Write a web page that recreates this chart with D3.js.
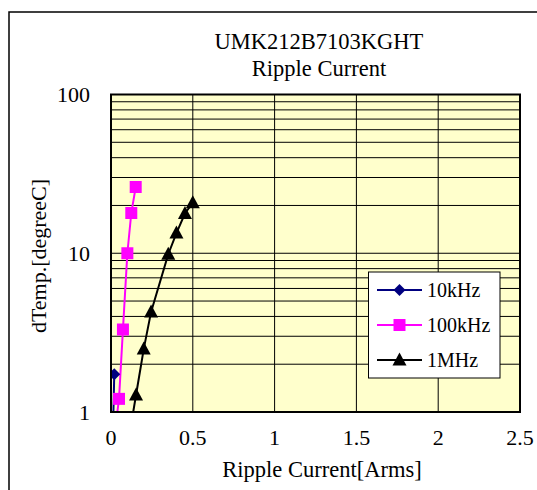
<!DOCTYPE html>
<html><head><meta charset="utf-8">
<script src="https://cdn.jsdelivr.net/npm/d3@7"></script>
<style>html,body{margin:0;padding:0;background:#fff;}svg{display:block;}</style>
</head><body>
<svg id="c" width="537" height="490"></svg>
<script>
const titleLines = ["UMK212B7103KGHT", "Ripple Current"];
const xLabel = "Ripple Current[Arms]";
const yLabel = "dTemp.[degreeC]";
const xTicks = [0, 0.5, 1, 1.5, 2, 2.5];
const xTickLabels = ["0", "0.5", "1", "1.5", "2", "2.5"];
const yTicks = [1, 10, 100];
const yTickLabels = ["1", "10", "100"];
const seriesNames = ["10kHz", "100kHz", "1MHz"];
const s10kX = [0.01, 0.02];
const s10kY = [0.6, 1.73];
const s100kX = [0.025, 0.049, 0.073, 0.1, 0.124, 0.151];
const s100kY = [0.77, 1.21, 3.31, 10.0, 17.9, 26.1];
const s1MX = [0.1, 0.153, 0.2, 0.245, 0.35, 0.4, 0.452, 0.5];
const s1MY = [0.6, 1.28, 2.49, 4.27, 9.86, 13.4, 17.8, 20.8];
const colors = ["#000080", "#FF00FF", "#000000"];
const markers = ["diamond", "square", "triangle"];

const FONT = '"Liberation Serif"';
const svg = d3.select("#c");
const L = 111, R = 520, T = 94.5, B = 412;
const x = d3.scaleLinear().domain([0, 2.5]).range([L, R]);
const y = d3.scaleLog().domain([1, 100]).range([B, T]);

svg.append("rect").attr("x", 9).attr("y", 12).attr("width", 600).attr("height", 600)
  .attr("fill", "#fff").attr("stroke", "#000").attr("stroke-width", 1.5);

svg.append("rect").attr("x", L).attr("y", T).attr("width", R - L).attr("height", B - T).attr("fill", "#FFFFCC");

const minorY = [];
for (let d = 1; d < 100; d *= 10) for (let k = 1; k <= 9; k++) { const v = d * k; if (v > 1 && v < 100) minorY.push(v); }
svg.append("g").selectAll("line").data(minorY).join("line")
  .attr("x1", L).attr("x2", R).attr("y1", d => y(d)).attr("y2", d => y(d))
  .attr("stroke", "#000").attr("stroke-width", 1);
svg.append("g").selectAll("line").data(xTicks.slice(1, -1)).join("line")
  .attr("x1", d => x(d)).attr("x2", d => x(d)).attr("y1", T).attr("y2", B)
  .attr("stroke", "#000").attr("stroke-width", 1);

svg.append("clipPath").attr("id", "clip").append("rect").attr("x", L).attr("y", T).attr("width", R - L).attr("height", B - T);

const series = [
  { xs: s10kX, ys: s10kY },
  { xs: s100kX, ys: s100kY },
  { xs: s1MX, ys: s1MY }
];
function markerPath(type, cx, cy) {
  if (type === "diamond") return `M${cx},${cy-6}L${cx+6},${cy}L${cx},${cy+6}L${cx-6},${cy}Z`;
  if (type === "square") return `M${cx-6},${cy-6}h12v12h-12Z`;
  return `M${cx},${cy-7.5}L${cx+7},${cy+5.5}L${cx-7},${cy+5.5}Z`;
}
const line = d3.line().x(d => x(d[0])).y(d => y(d[1]));
const gData = svg.append("g").attr("clip-path", "url(#clip)");
series.forEach((s, i) => {
  const pts = s.xs.map((v, j) => [v, s.ys[j]]);
  gData.append("path").attr("d", line(pts)).attr("fill", "none").attr("stroke", colors[i]).attr("stroke-width", 2);
});
series.forEach((s, i) => {
  const pts = s.xs.map((v, j) => [v, s.ys[j]]).filter(p => p[1] >= 1);
  gData.append("g").selectAll("path").data(pts).join("path")
    .attr("d", p => markerPath(markers[i], x(p[0]), y(p[1]))).attr("fill", colors[i]);
});

svg.append("rect").attr("x", L).attr("y", T).attr("width", R - L).attr("height", B - T)
  .attr("fill", "none").attr("stroke", "#000").attr("stroke-width", 2);

function txt(sel, fs) { return sel.attr("font-size", fs).style("font-family", FONT).attr("fill", "#000"); }
txt(svg.append("g").selectAll("text").data(xTicks).join("text")
  .attr("x", d => x(d)).attr("y", 445).attr("text-anchor", "middle"), 22)
  .text((d, i) => xTickLabels[i]);
txt(svg.append("g").selectAll("text").data(yTicks).join("text")
  .attr("x", 90).attr("y", d => y(d) + 7.5).attr("text-anchor", "end"), 22)
  .text((d, i) => yTickLabels[i]);
txt(svg.append("text").attr("x", 322).attr("y", 477).attr("text-anchor", "middle"), 22.5).text(xLabel);
txt(svg.append("text").attr("transform", `translate(46,256) rotate(-90)`).attr("text-anchor", "middle"), 22).text(yLabel);

txt(svg.append("text").attr("x", 319).attr("y", 49).attr("text-anchor", "middle"), 22.5).text(titleLines[0]);
txt(svg.append("text").attr("x", 319).attr("y", 76).attr("text-anchor", "middle"), 22.5).text(titleLines[1]);

const lg = svg.append("g");
lg.append("rect").attr("x", 368.5).attr("y", 272).attr("width", 131.5).attr("height", 106)
  .attr("fill", "#fff").attr("stroke", "#000").attr("stroke-width", 1);
seriesNames.forEach((n, i) => {
  const cy = 290 + i * 35;
  lg.append("line").attr("x1", 377).attr("x2", 422).attr("y1", cy).attr("y2", cy).attr("stroke", colors[i]).attr("stroke-width", 2);
  lg.append("path").attr("d", markerPath(markers[i], 399.5, cy)).attr("fill", colors[i]);
  txt(lg.append("text").attr("x", 427).attr("y", cy + 7), 20).text(n);
});
</script>
</body></html>
